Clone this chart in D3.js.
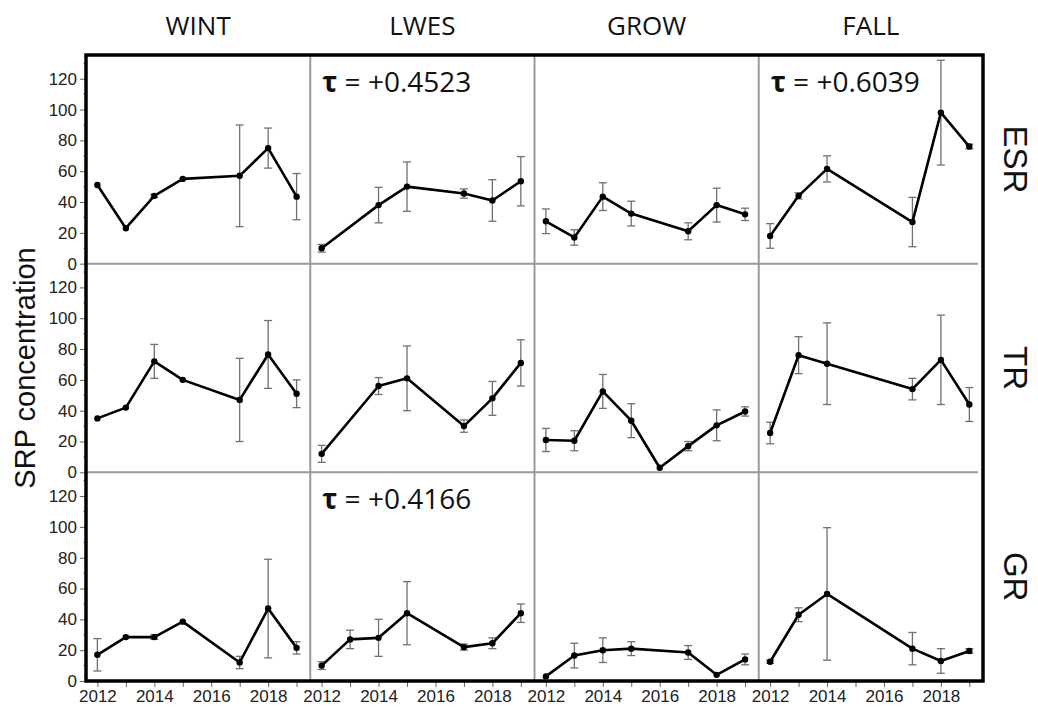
<!DOCTYPE html>
<html>
<head>
<meta charset="utf-8">
<script src="https://cdn.jsdelivr.net/npm/d3@7"></script>
<style>
	body { margin: 0; background: #fff; }
	svg { display: block; }
</style>
</head>
<body>
<div id="chart"></div>
<script>
// seasons (columns) and sites (rows)
const seasons = ['WINT', 'LWES', 'GROW', 'FALL'];
const sites = ['ESR', 'TR', 'GR'];
const yTicks = [0, 20, 40, 60, 80, 100, 120];
const yMinorTicks = [10, 30, 50, 70, 90, 110, 130];
const xTicks = [2012, 2013, 2014, 2015, 2016, 2017, 2018, 2019];
const xLabelled = [2012, 2014, 2016, 2018];

// ESR: one array per season
const esrYears = [
	[2012, 2013, 2014, 2015, 2017, 2018, 2019],
	[2012, 2014, 2015, 2017, 2018, 2019],
	[2012, 2013, 2014, 2015, 2017, 2018, 2019],
	[2012, 2013, 2014, 2017, 2018, 2019]
];
const esrMean = [
	[51, 23, 44, 55, 57, 75, 43.5],
	[10, 38, 50, 45.5, 41, 53.5],
	[27.5, 17, 43.5, 32.5, 21, 38, 32],
	[18, 44, 61.5, 27, 98, 76]
];
const esrErr = [
	[0, 0, 1, 0, 33, 13, 15],
	[2.5, 11.5, 16, 3, 13.5, 16],
	[8, 5, 9, 8, 5.5, 11, 4],
	[8, 2, 8.5, 16, 34, 1.5]
];

// TR
const trYears = [
	[2012, 2013, 2014, 2015, 2017, 2018, 2019],
	[2012, 2014, 2015, 2017, 2018, 2019],
	[2012, 2013, 2014, 2015, 2016, 2017, 2018, 2019],
	[2012, 2013, 2014, 2017, 2018, 2019]
];
const trMean = [
	[35, 42, 72, 60, 47, 76.5, 51],
	[12, 56, 61, 30, 48, 71],
	[21, 20.5, 52.5, 33.5, 3, 17, 30.5, 39.5],
	[25.5, 76, 70.5, 54, 73, 44]
];
const trErr = [
	[0, 0, 11, 0, 27, 22, 9],
	[5.5, 5.5, 21, 4, 11, 15],
	[7.5, 6.5, 11, 11, 0, 3, 10, 3],
	[7, 12, 26.5, 7, 29, 11]
];

// GR
const grYears = [
	[2012, 2013, 2014, 2015, 2017, 2018, 2019],
	[2012, 2013, 2014, 2015, 2017, 2018, 2019],
	[2012, 2013, 2014, 2015, 2017, 2018, 2019],
	[2012, 2013, 2014, 2017, 2018, 2019]
];
const grMean = [
	[17, 28.5, 28.5, 38.5, 12, 47, 21.5],
	[10, 27, 28, 44, 22, 24.5, 44],
	[3, 16.5, 20, 21, 18.5, 4, 14],
	[12.5, 43, 56.5, 21, 13, 19.5]
];
const grErr = [
	[10.5, 0, 1.5, 0, 4, 32, 4],
	[2.5, 6, 12, 20.5, 2, 3.5, 6],
	[0, 8, 8, 4.5, 4.5, 0, 3.5],
	[1, 4.5, 43, 10.5, 8, 1.5]
];

// Kendall tau annotations: row, column, text
const tauRows = [0, 0, 2];
const tauCols = [1, 3, 1];
const tauText = ['+0.4523', '+0.6039', '+0.4166'];

const years = [esrYears, trYears, grYears];
const means = [esrMean, trMean, grMean];
const errs = [esrErr, trErr, grErr];

const W = 1038, H = 711;
const margin = {top: 55, left: 86, right: 55, bottom: 30};
const gridW = W - margin.left - margin.right;
const gridH = H - margin.top - margin.bottom;
const pw = gridW / seasons.length;
const ph = gridH / sites.length;

const svg = d3.select('#chart')
	.append('svg')
	.attr('width', W)
	.attr('height', H);

const x = d3.scaleLinear().domain([2011.6, 2019.48]).range([0, pw]);
const y = d3.scaleLinear().domain([0, 135.4]).range([ph, 0]);

const g = svg.append('g').attr('transform', `translate(${margin.left},${margin.top})`);

// panel dividers
for(let c = 1; c < seasons.length; c++) {
	g.append('line')
		.attr('x1', c * pw).attr('x2', c * pw)
		.attr('y1', 0).attr('y2', gridH)
		.attr('stroke', '#9a9a9a').attr('stroke-width', 2);
}
for(let r = 1; r < sites.length; r++) {
	g.append('line')
		.attr('x1', 0).attr('x2', gridW - 5)
		.attr('y1', r * ph).attr('y2', r * ph)
		.attr('stroke', '#9a9a9a').attr('stroke-width', 2);
}

// y axes on the left of every row
sites.forEach((s, r) => {
	const ya = g.append('g')
		.attr('transform', `translate(0,${r * ph})`)
		.call(d3.axisLeft(y).tickValues(yTicks).tickSize(6).tickPadding(3));
	ya.select('.domain').remove();
	ya.selectAll('text')
		.attr('font-family', 'Liberation Sans, Arial, sans-serif')
		.attr('font-size', '17px')
		.attr('fill', '#222');
	ya.selectAll('line').attr('stroke', '#666');
	g.append('g')
		.attr('transform', `translate(0,${r * ph})`)
		.selectAll('line')
		.data(yMinorTicks)
		.enter()
		.append('line')
		.attr('x1', -3).attr('x2', 0)
		.attr('y1', d => y(d)).attr('y2', d => y(d))
		.attr('stroke', '#999');
	// row label
	svg.append('text')
		.attr('transform', `translate(${margin.left + gridW + 21},${margin.top + r * ph + ph / 2}) rotate(90)`)
		.attr('text-anchor', 'middle')
		.attr('font-family', 'Liberation Sans, Arial, sans-serif')
		.attr('font-size', '33px')
		.attr('fill', '#111')
		.text(s);
});

// x axes under every column
seasons.forEach((s, c) => {
	const xa = g.append('g')
		.attr('transform', `translate(${c * pw},${gridH})`)
		.call(d3.axisBottom(x).tickValues(xTicks).tickSize(6).tickPadding(3)
			.tickFormat(d => xLabelled.includes(d) ? d : ''));
	xa.select('.domain').remove();
	xa.selectAll('text')
		.attr('font-family', 'Liberation Sans, Arial, sans-serif')
		.attr('font-size', '17px')
		.attr('fill', '#222');
	xa.selectAll('line').attr('stroke', '#666');
	// season header
	svg.append('text')
		.attr('x', margin.left + c * pw + pw / 2)
		.attr('y', 35)
		.attr('text-anchor', 'middle')
		.attr('font-family', 'Open Sans, sans-serif')
		.attr('font-size', '26px')
		.attr('fill', '#111')
		.text(s);
});

// panels
const line = d3.line().x(d => x(d.year)).y(d => y(d.mean));
sites.forEach((s, r) => {
	seasons.forEach((ss, c) => {
		const data = years[r][c].map((yr, i) => ({year: yr, mean: means[r][c][i], err: errs[r][c][i]}));
		const p = g.append('g').attr('transform', `translate(${c * pw},${r * ph})`);
		// error bars
		const eb = p.selectAll('.eb')
			.data(data.filter(d => d.err > 0))
			.enter()
			.append('g')
			.attr('class', 'eb')
			.attr('stroke', '#707070')
			.attr('stroke-width', 1.3);
		eb.append('line')
			.attr('x1', d => x(d.year)).attr('x2', d => x(d.year))
			.attr('y1', d => y(d.mean + d.err)).attr('y2', d => y(d.mean - d.err));
		eb.append('line')
			.attr('x1', d => x(d.year) - 4).attr('x2', d => x(d.year) + 4)
			.attr('y1', d => y(d.mean + d.err)).attr('y2', d => y(d.mean + d.err));
		eb.append('line')
			.attr('x1', d => x(d.year) - 4).attr('x2', d => x(d.year) + 4)
			.attr('y1', d => y(d.mean - d.err)).attr('y2', d => y(d.mean - d.err));
		// mean line and points
		p.append('path')
			.datum(data)
			.attr('d', line)
			.attr('fill', 'none')
			.attr('stroke', '#000')
			.attr('stroke-width', 2.6)
			.attr('stroke-linejoin', 'round');
		p.selectAll('circle')
			.data(data)
			.enter()
			.append('circle')
			.attr('cx', d => x(d.year))
			.attr('cy', d => y(d.mean))
			.attr('r', 3.2)
			.attr('fill', '#000');
	});
});

// tau annotations
tauText.forEach((t, i) => {
	const txt = g.append('text')
		.attr('x', tauCols[i] * pw + 12)
		.attr('y', tauRows[i] * ph + 37)
		.attr('font-family', 'Open Sans, sans-serif')
		.attr('font-size', '28px')
		.attr('fill', '#111');
	txt.append('tspan').attr('font-weight', 'bold').text('τ');
	txt.append('tspan').text(' = ' + t);
});

// outer frame
g.append('rect')
	.attr('x', 0).attr('y', 0)
	.attr('width', gridW).attr('height', gridH)
	.attr('fill', 'none')
	.attr('stroke', '#000')
	.attr('stroke-width', 3.5);

// y axis title
svg.append('text')
	.attr('transform', `translate(35,${margin.top + gridH / 2}) rotate(-90)`)
	.attr('text-anchor', 'middle')
	.attr('font-family', 'Liberation Sans, Arial, sans-serif')
	.attr('font-size', '29px')
	.attr('fill', '#111')
	.text('SRP concentration');
</script>
</body>
</html>
